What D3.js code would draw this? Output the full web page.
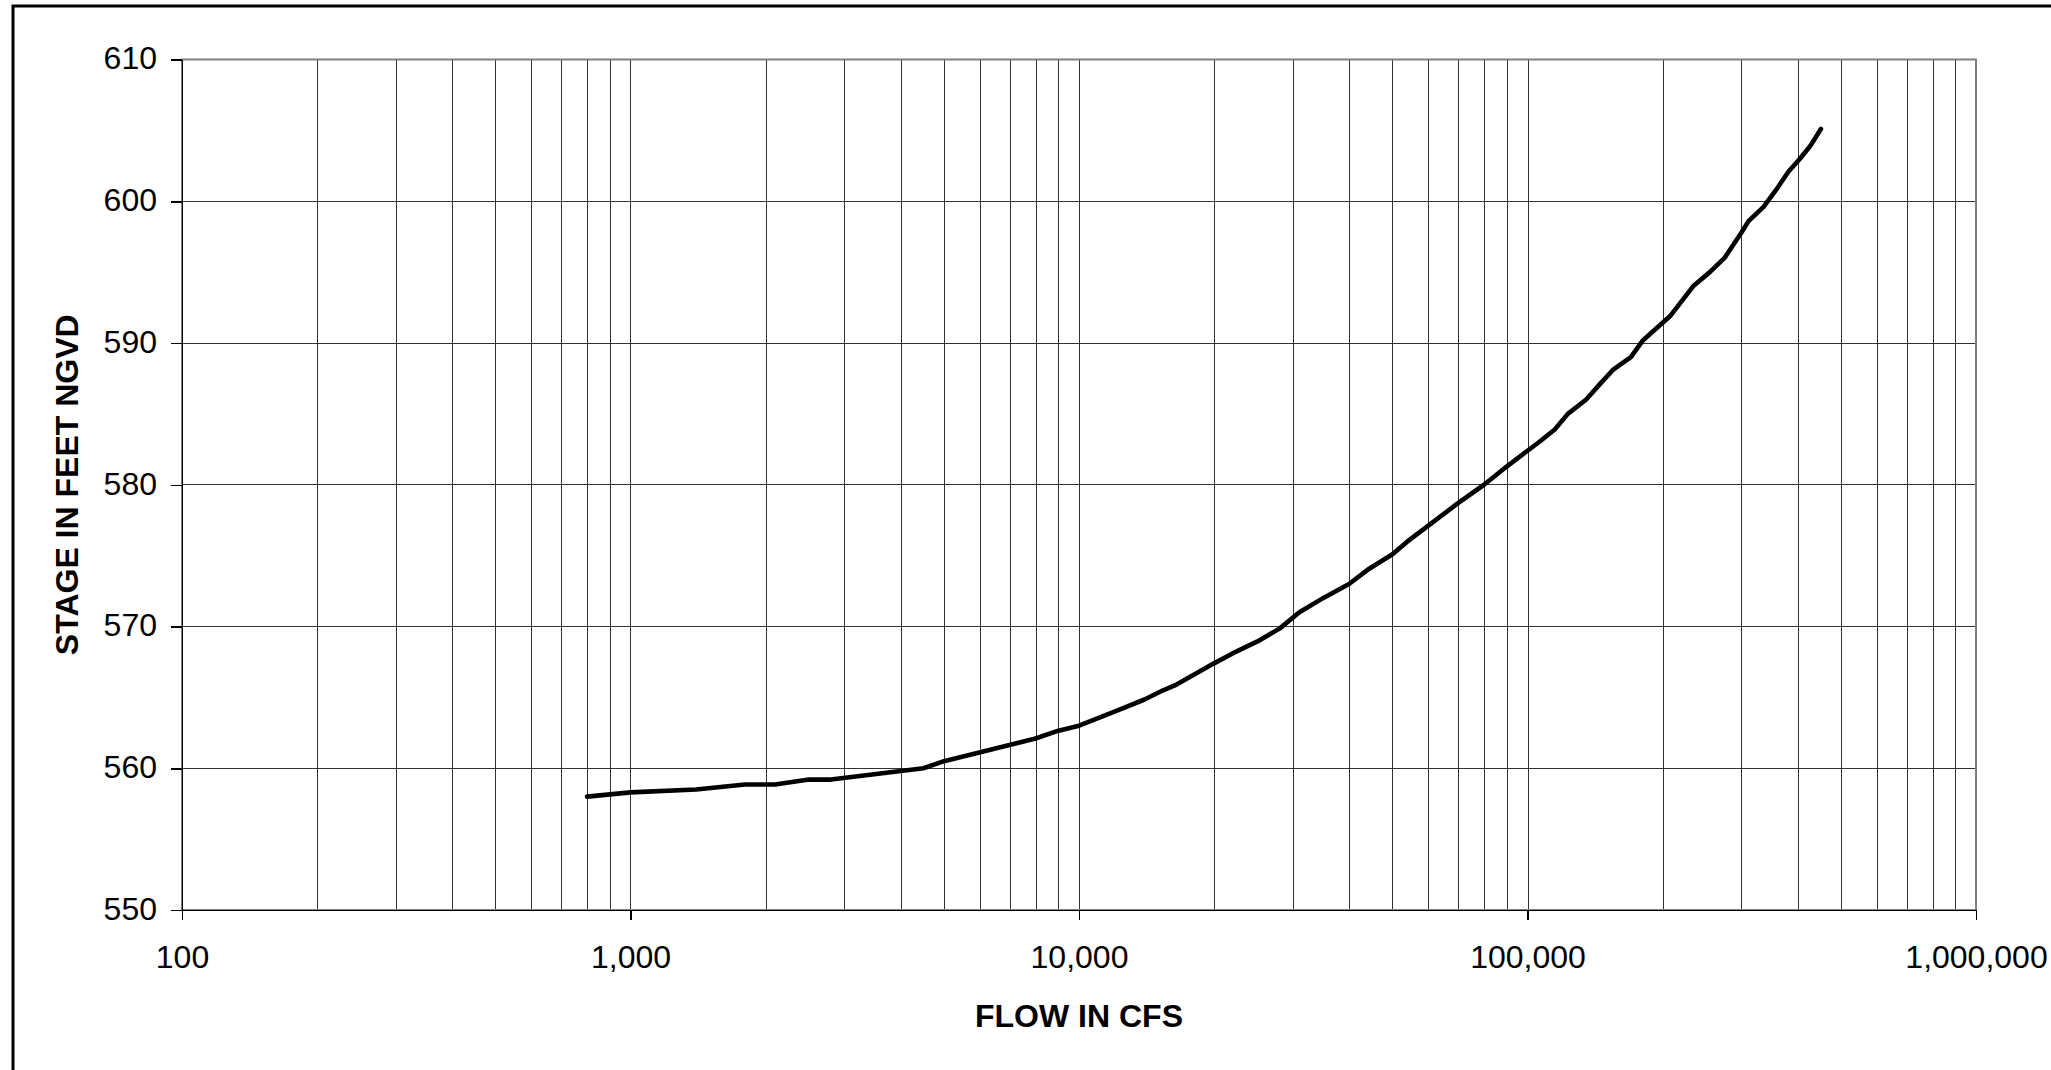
<!DOCTYPE html>
<html lang="en">
<head>
    <meta charset="UTF-8">
    <title>Stage - Flow Rating Curve</title>
    <script src="https://d3js.org/d3.v7.min.js"></script>
    <style>
        body { margin: 0; background: white; font-family: "Liberation Sans", Arial, sans-serif; }
        .grid line { stroke: #333; stroke-width: 1px; shape-rendering: crispEdges; }
        .axis text { font-family: "Liberation Sans", Arial, sans-serif; font-size: 32px; fill: #000; }
        .axis path, .axis line { stroke: #000; stroke-width: 1.5px; shape-rendering: crispEdges; }
        .title { font-family: "Liberation Sans", Arial, sans-serif; font-size: 32px; font-weight: bold; }
    </style>
</head>
<body>
    <svg width="2051" height="1070"></svg>

    <script>
        // rating table (flow in cfs, stage in feet)
        const flow = [800, 1000, 1400, 1800, 2100, 2500, 2800, 4500, 5000, 8000, 9000, 10000,
            12000, 14000, 15400, 16500, 20000, 22000, 25000, 28000, 31000, 35000, 40000, 44000,
            50000, 54000, 60000, 70000, 80000, 90000, 100000, 106000, 115000, 123000, 135000,
            145000, 155000, 170000, 181000, 208000, 234000, 255000, 275000, 300000, 311000,
            336000, 362000, 382000, 405000, 427000, 451000];
        const stage = [558.0, 558.3, 558.5, 558.85, 558.85, 559.2, 559.2, 560.0, 560.5, 562.1, 562.65, 563.0,
            564.0, 564.85, 565.5, 565.9, 567.4, 568.1, 568.95, 569.85, 571.0, 572.0, 573.0, 574.0,
            575.1, 576.0, 577.1, 578.7, 580.0, 581.3, 582.4, 583.0, 583.9, 585.0, 586.0,
            587.1, 588.1, 589.0, 590.2, 591.9, 594.0, 595.0, 596.0, 597.8, 598.6,
            599.6, 601.0, 602.1, 603.0, 603.9, 605.1];

        const xTicks = [100, 1000, 10000, 100000, 1000000];
        const yTicks = [550, 560, 570, 580, 590, 600, 610];

        const plotLeft = 182, plotRight = 1976, plotTop = 59.5, plotBottom = 910;
        const svg = d3.select("svg");

        // outer frame
        svg.append("rect")
            .attr("x", 13).attr("y", 6)
            .attr("width", 2100).attr("height", 1100)
            .attr("fill", "white")
            .attr("stroke", "#000")
            .attr("stroke-width", 3);

        const x = d3.scaleLog().domain([100, 1000000]).range([plotLeft, plotRight]);
        const y = d3.scaleLinear().domain([550, 610]).range([plotBottom, plotTop]);

        // minor vertical gridlines at 2..9 of each decade
        const minor = [];
        for (let e = 2; e < 6; e++) {
            for (let m = 2; m <= 9; m++) minor.push(m * Math.pow(10, e));
        }
        const grid = svg.append("g").attr("class", "grid");
        grid.selectAll(".v")
            .data(minor.concat(xTicks))
            .enter().append("line")
            .attr("x1", d => Math.round(x(d)) + 0.5).attr("x2", d => Math.round(x(d)) + 0.5)
            .attr("y1", plotTop).attr("y2", plotBottom);
        grid.selectAll(".h")
            .data(yTicks)
            .enter().append("line")
            .attr("x1", plotLeft).attr("x2", plotRight)
            .attr("y1", d => y(d)).attr("y2", d => y(d));

        // plot area border
        svg.append("rect")
            .attr("x", plotLeft).attr("y", plotTop)
            .attr("width", plotRight - plotLeft).attr("height", plotBottom - plotTop)
            .attr("fill", "none")
            .attr("stroke", "#808080")
            .attr("stroke-width", 2);

        svg.append("g")
            .attr("class", "axis")
            .attr("transform", `translate(0,${plotBottom})`)
            .call(d3.axisBottom(x).tickValues(xTicks).tickFormat(d3.format(","))
                .tickSize(10).tickSizeOuter(0).tickPadding(25));

        svg.append("g")
            .attr("class", "axis")
            .attr("transform", `translate(${plotLeft},0)`)
            .call(d3.axisLeft(y).tickValues(yTicks).tickFormat(d3.format("d"))
                .tickSize(11).tickSizeOuter(0).tickPadding(14))
            .selectAll("text").attr("dy", "0.29em");

        // rating curve
        const pts = flow.map((f, i) => [f, stage[i]]);
        svg.append("path")
            .datum(pts)
            .attr("fill", "none")
            .attr("stroke", "#000")
            .attr("stroke-width", 4.6)
            .attr("stroke-linejoin", "round")
            .attr("stroke-linecap", "round")
            .attr("d", d3.line().x(d => x(d[0])).y(d => y(d[1])));

        // axis titles
        svg.append("text")
            .attr("class", "title")
            .attr("x", (plotLeft + plotRight) / 2)
            .attr("y", 1027)
            .attr("text-anchor", "middle")
            .text("FLOW IN CFS");

        svg.append("text")
            .attr("class", "title")
            .attr("transform", `translate(78,${(plotTop + plotBottom) / 2}) rotate(-90)`)
            .attr("text-anchor", "middle")
            .text("STAGE IN FEET NGVD");
    </script>
</body>
</html>
